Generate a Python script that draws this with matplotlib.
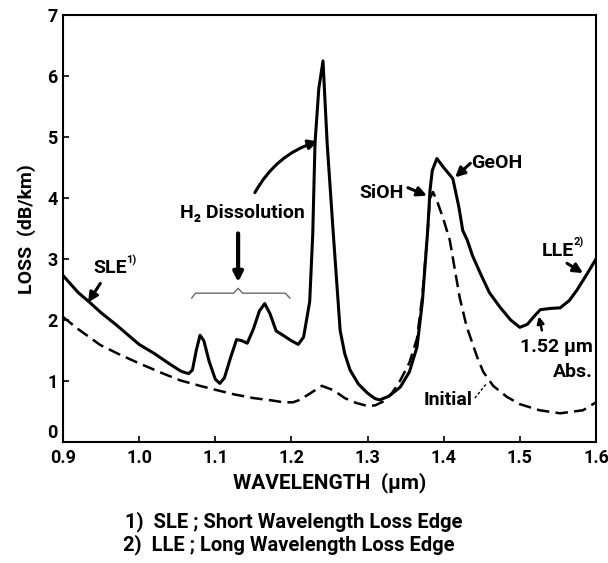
import matplotlib
matplotlib.use("Agg")
import matplotlib.pyplot as plt

# loss spectrum of fibre after H2 dissolution (solid) and initial (dashed)
wl_h2 = [0.900, 0.920, 0.935, 0.950, 0.970, 1.000, 1.020, 1.040, 1.055, 1.065,
         1.070, 1.075, 1.080, 1.085, 1.092, 1.100, 1.106, 1.112, 1.120, 1.128,
         1.135, 1.142, 1.150, 1.158, 1.165, 1.172, 1.180, 1.189, 1.200, 1.209,
         1.216, 1.224, 1.228, 1.231, 1.236, 1.2415, 1.247, 1.255, 1.264, 1.270,
         1.277, 1.288, 1.300, 1.310, 1.316, 1.328, 1.343, 1.355, 1.365, 1.372,
         1.379, 1.382, 1.385, 1.391, 1.400, 1.412, 1.420, 1.425, 1.431, 1.438,
         1.448, 1.460, 1.474, 1.488, 1.500, 1.510, 1.518, 1.527, 1.540, 1.553,
         1.565, 1.575, 1.588, 1.600]
loss_h2 = [2.73, 2.45, 2.29, 2.12, 1.92, 1.60, 1.45, 1.28, 1.16, 1.12,
           1.18, 1.50, 1.75, 1.66, 1.32, 1.03, 0.96, 1.05, 1.38, 1.68,
           1.66, 1.62, 1.85, 2.15, 2.27, 2.10, 1.82, 1.75, 1.66, 1.60,
           1.72, 2.30, 3.40, 4.90, 5.80, 6.25, 4.89, 3.42, 1.83, 1.45,
           1.18, 0.95, 0.80, 0.71, 0.69, 0.75, 0.90, 1.15, 1.56, 2.30,
           3.47, 4.12, 4.45, 4.65, 4.50, 4.32, 3.85, 3.47, 3.31, 3.05,
           2.77, 2.45, 2.21, 2.00, 1.88, 1.93, 2.05, 2.17, 2.19, 2.20,
           2.32, 2.49, 2.75, 3.00]

wl_init = [0.900, 0.920, 0.949, 0.975, 1.000, 1.030, 1.054, 1.080, 1.102, 1.125,
           1.150, 1.175, 1.190, 1.202, 1.211, 1.225, 1.240, 1.255, 1.270, 1.285,
           1.300, 1.310, 1.320, 1.332, 1.343, 1.355, 1.365, 1.372, 1.378, 1.382,
           1.386, 1.391, 1.399, 1.408, 1.421, 1.430, 1.444, 1.452, 1.465, 1.483,
           1.500, 1.526, 1.553, 1.583, 1.600]
loss_init = [2.05, 1.85, 1.59, 1.43, 1.29, 1.13, 1.01, 0.92, 0.85, 0.78,
             0.72, 0.68, 0.65, 0.65, 0.69, 0.80, 0.92, 0.85, 0.72, 0.64,
             0.59, 0.60, 0.66, 0.80, 1.01, 1.30, 1.70, 2.40, 3.30, 4.00,
             4.10, 3.96, 3.68, 3.31, 2.37, 1.90, 1.39, 1.15, 0.92, 0.74,
             0.62, 0.52, 0.47, 0.52, 0.65]

xticks = [0.9, 1.0, 1.1, 1.2, 1.3, 1.4, 1.5, 1.6]
yticks = [0, 1, 2, 3, 4, 5, 6, 7]

plt.rcParams['font.family'] = ['Roboto', 'DejaVu Sans']
plt.rcParams['font.weight'] = 'bold'

fig = plt.figure(figsize=(6.08, 5.63), dpi=100)
ax = fig.add_axes([0.1036, 0.215, 0.8766, 0.758])

ax.plot(wl_h2, loss_h2, color='black', lw=2.2, solid_joinstyle='round')
ax.plot(wl_init, loss_init, color='black', lw=1.8, dashes=(5, 2.5))

ax.set_xlim(0.9, 1.6)
ax.set_ylim(0, 7)
ax.set_xticks(xticks)
ax.set_yticks(yticks)
ax.set_xticklabels(["%.1f" % t for t in xticks])
ax.tick_params(direction='in', length=4, width=1.2, labelsize=13)
ax.tick_params(axis='x', pad=5)
ax.tick_params(axis='y', pad=4)
# the "0" sits just above the axis line, clear of "0.9"
ax.get_yticklabels()[0].set_verticalalignment('bottom')
for s in ax.spines.values():
    s.set_linewidth(1.5)

ax.set_xlabel("WAVELENGTH  (μm)", fontsize=15, fontweight='bold', labelpad=4)
ax.set_ylabel("LOSS  (dB/km)", fontsize=14, fontweight='bold', labelpad=8)

arrow = dict(arrowstyle='-|>', color='black', lw=2.2, mutation_scale=14,
             shrinkA=0, shrinkB=0)

# SLE
ax.text(0.962, 2.85, "SLE", fontsize=14, ha='center', va='center')
ax.text(0.983, 2.98, "1)", fontsize=8, ha='left', va='center')
ax.annotate("", xy=(0.933, 2.29), xytext=(0.949, 2.60), arrowprops=arrow)

# H2 dissolution
ax.text(1.136, 3.75, "H₂ Dissolution", fontsize=14, ha='center', va='center')
ax.annotate("", xy=(1.235, 4.93), xytext=(1.152, 4.09),
            arrowprops=dict(arrow, connectionstyle='arc3,rad=-0.2'))
ax.annotate("", xy=(1.13, 2.62), xytext=(1.13, 3.42), arrowprops=dict(arrow, lw=3))
brace_x = [1.069, 1.074, 1.124, 1.130, 1.136, 1.192, 1.198]
brace_y = [2.36, 2.44, 2.44, 2.52, 2.44, 2.44, 2.36]
ax.plot(brace_x, brace_y, color='dimgray', lw=1)

# OH peaks
ax.text(1.319, 4.09, "SiOH", fontsize=14, ha='center', va='center')
ax.annotate("", xy=(1.378, 4.04), xytext=(1.353, 4.17), arrowprops=arrow)
ax.text(1.470, 4.58, "GeOH", fontsize=14, ha='center', va='center')
ax.annotate("", xy=(1.415, 4.34), xytext=(1.435, 4.57), arrowprops=arrow)

# LLE
ax.text(1.550, 3.14, "LLE", fontsize=14, ha='center', va='center')
ax.text(1.571, 3.28, "2)", fontsize=8, ha='left', va='center')
ax.annotate("", xy=(1.583, 2.77), xytext=(1.562, 2.93), arrowprops=arrow)

# 1.52 um absorption
ax.text(1.596, 1.56, "1.52 μm", fontsize=14, ha='right', va='center')
ax.text(1.596, 1.15, "Abs.", fontsize=14, ha='right', va='center')
ax.annotate("", xy=(1.525, 2.06), xytext=(1.529, 1.83),
            arrowprops=dict(arrow, lw=1.8, mutation_scale=10))

# initial
ax.text(1.406, 0.69, "Initial", fontsize=14, ha='center', va='center')
ax.plot([1.441, 1.457], [0.72, 0.97], color='black', lw=1, dashes=(2, 1.5))

fig.text(0.205, 1 - 522 / 563, "1)  SLE ; Short Wavelength Loss Edge",
         fontsize=14.5, ha='left', va='center')
fig.text(0.202, 1 - 545 / 563, "2)  LLE ; Long Wavelength Loss Edge",
         fontsize=14.5, ha='left', va='center')

fig.savefig("out.png", dpi=100)
